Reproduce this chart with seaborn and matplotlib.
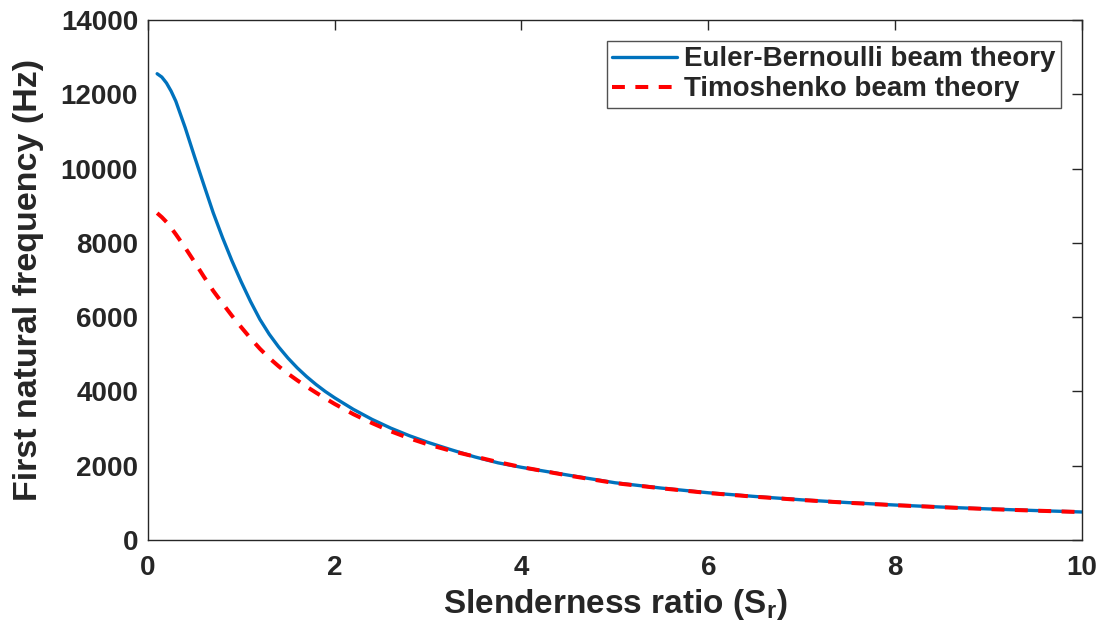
import numpy as np
import pandas as pd
import matplotlib
matplotlib.use("Agg")
import matplotlib.pyplot as plt
import seaborn as sns

# Data
slenderness = [0.1, 0.15, 0.2, 0.25, 0.3, 0.4, 0.5, 0.6, 0.7, 0.8, 0.9, 1.0, 1.1, 1.2, 1.3,
               1.4, 1.5, 1.6, 1.7, 1.8, 1.9, 2.0, 2.2, 2.4, 2.6, 2.8, 3.0, 3.25, 3.5, 3.75,
               4.0, 4.5, 5.0, 5.5, 6.0, 6.5, 7.0, 7.5, 8.0, 8.5, 9.0, 9.5, 10.0]
euler_bernoulli = [12550, 12460, 12300, 12080, 11810, 11100, 10320, 9560, 8810, 8140, 7520,
                   6950, 6420, 5940, 5540, 5200, 4900, 4635, 4400, 4190, 4000, 3830, 3520,
                   3250, 3015, 2810, 2630, 2430, 2240, 2080, 1960, 1750, 1545, 1400, 1275,
                   1175, 1085, 1010, 945, 890, 840, 797, 758]
timoshenko = [8800, 8690, 8560, 8400, 8230, 7870, 7485, 7090, 6710, 6370, 6040, 5730, 5430,
              5150, 4900, 4680, 4480, 4300, 4130, 3970, 3815, 3665, 3390, 3150, 2930, 2740,
              2575, 2400, 2250, 2100, 1965, 1740, 1535, 1395, 1268, 1168, 1080, 1005, 940,
              886, 836, 794, 755]

labels = ["Euler-Bernoulli beam theory", "Timoshenko beam theory"]
x_ticks = [0, 2, 4, 6, 8, 10]
y_ticks = [0, 2000, 4000, 6000, 8000, 10000, 12000, 14000]

df = pd.DataFrame({
    "Sr": slenderness * 2,
    "f": euler_bernoulli + timoshenko,
    "theory": [labels[0]] * len(slenderness) + [labels[1]] * len(slenderness),
})

sns.set_style("white")
plt.rcParams['font.family'] = ['Liberation Sans', 'DejaVu Sans']
plt.rcParams['font.weight'] = 'bold'

fig = plt.figure(figsize=(11.03, 6.4), dpi=100)
ax = fig.add_axes([0.134, 0.156, 0.847, 0.813])

sns.lineplot(data=df, x="Sr", y="f", hue="theory", style="theory",
             palette={labels[0]: "#0072BD", labels[1]: "#FF0000"},
             dashes={labels[0]: "", labels[1]: (3.2, 2.6)},
             linewidth=2.4, ax=ax)
ax.lines[0].set_zorder(2)
ax.lines[0].set_solid_joinstyle('round')
ax.lines[1].set_linewidth(2.9)
ax.lines[1].set_zorder(3)

ax.set_xlim(0, 10)
ax.set_ylim(0, 14000)
ax.set_xticks(x_ticks)
ax.set_yticks(y_ticks)
ax.set_xticklabels([str(t) for t in x_ticks], fontsize=20, fontweight='bold', color='#262626')
ax.set_yticklabels([str(t) for t in y_ticks], fontsize=20, fontweight='bold', color='#262626')
ax.tick_params(direction='in', length=7, width=1, color='#262626', top=True, right=True)
ax.tick_params(axis='x', pad=11)
ax.tick_params(axis='y', pad=7)
for s in ax.spines.values():
    s.set_visible(True)
    s.set_color('#262626')
    s.set_linewidth(1.0)

ax.set_xlabel("Slenderness ratio (S$_\\mathregular{r}$)", fontsize=24, fontweight='bold',
              color='#262626', labelpad=4)
ax.set_ylabel("First natural frequency (Hz)", fontsize=24.5, fontweight='bold',
              color='#262626', labelpad=12)

leg = ax.legend(loc='upper right', fontsize=20, frameon=True, fancybox=False,
                edgecolor='#262626', handlelength=2.35, handletextpad=0.25,
                borderaxespad=0.75, borderpad=0.2, labelspacing=0.15)
leg.get_frame().set_linewidth(1.0)
for t in leg.get_texts():
    t.set_fontweight('bold')
leg.get_lines()[0].set_linewidth(2.4)
leg.get_lines()[1].set_linewidth(2.9)

fig.savefig("out.png", dpi=100, facecolor='white')
